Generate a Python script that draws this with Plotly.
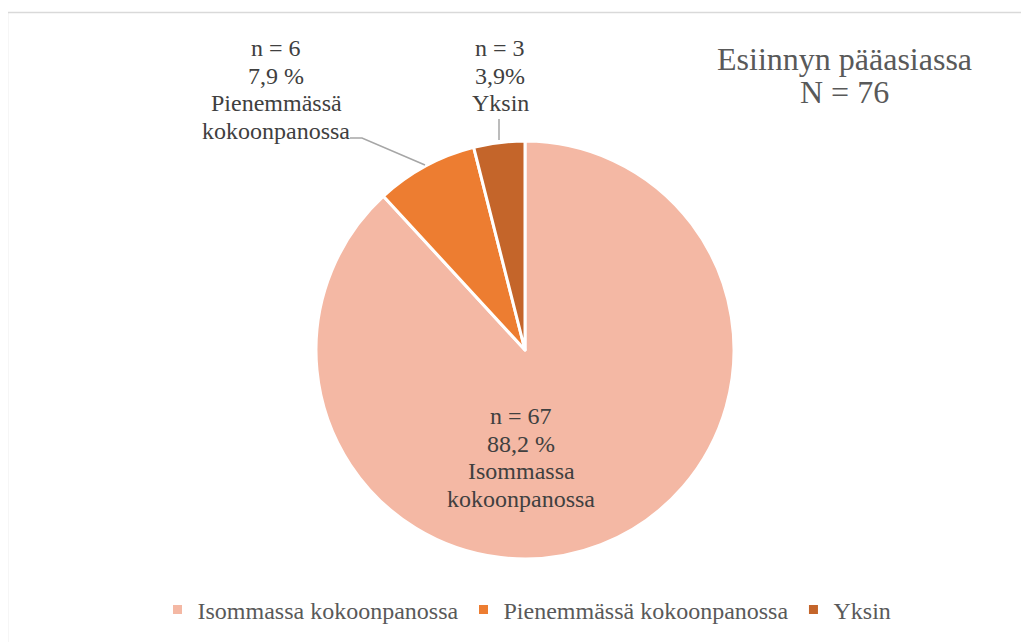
import plotly.graph_objects as go

labels = ["Isommassa kokoonpanossa", "Pienemmässä kokoonpanossa", "Yksin"]
counts = [67, 6, 3]
pct_text = ["88,2 %", "7,9 %", "3,9%"]
label_lines = [["Isommassa", "kokoonpanossa"], ["Pienemmässä", "kokoonpanossa"], ["Yksin"]]
colors = ["#F4B8A4", "#ED7D31", "#C4652A"]
title_lines = ["Esiinnyn pääasiassa", "N = 76"]

# page has an 8px body margin, so the figure sits at (8, 8)
OFF = 8
W, H = 1029 - OFF, 642 - OFF
SERIF = "Liberation Serif"


def px(x, y):
    # page pixel position -> paper coords
    return (x - OFF) / W, 1 - (y - OFF) / H


def text_block(lines, cx, top, pitch, font):
    # one annotation per line so the line spacing matches the original
    for k, line in enumerate(lines):
        x, y = px(cx, top + k * pitch)
        fig.add_annotation(x=x, y=y, xref="paper", yref="paper", text=line,
                           showarrow=False, font=font,
                           xanchor="center", yanchor="middle")


fig = go.Figure()
d0, d1 = px(316, 559), px(734, 141)
fig.add_trace(go.Pie(
    labels=labels,
    values=counts,
    sort=False,
    direction="clockwise",
    rotation=0,
    marker=dict(colors=colors, line=dict(color="white", width=3)),
    textinfo="none",
    hoverinfo="label+value+percent",
    domain=dict(x=[d0[0], d1[0]], y=[d0[1], d1[1]]),
))

label_font = dict(family=SERIF, size=24, color="#404040")
label_pos = [(521, 416), (276, 48), (500, 48)]
for i in range(len(labels)):
    lines = ["n = %d" % counts[i], pct_text[i]] + label_lines[i]
    text_block(lines, label_pos[i][0], label_pos[i][1], 27.7, label_font)

text_block(title_lines, 844, 59, 33, dict(family=SERIF, size=32, color="#595959"))

# leader lines
lead = dict(color="#A6A6A6", width=1.5)
p1, p2, p3 = px(350, 138), px(362, 138), px(425, 165)
fig.add_shape(type="path", xref="paper", yref="paper",
              path="M %f %f L %f %f L %f %f" % (p1[0], p1[1], p2[0], p2[1], p3[0], p3[1]),
              line=lead)
q1, q2 = px(499, 119), px(499, 140)
fig.add_shape(type="line", xref="paper", yref="paper",
              x0=q1[0], y0=q1[1], x1=q2[0], y1=q2[1], line=lead)

# chart area frame
b0 = px(7.5, 12.5)
fig.add_shape(type="rect", xref="paper", yref="paper",
              x0=b0[0], y0=-0.05, x1=1.05, y1=b0[1],
              line=dict(color="#D9D9D9", width=1.5), layer="below")

lx, ly = px(527, 610)
fig.update_layout(
    width=W, height=H,
    margin=dict(l=0, r=0, t=0, b=0),
    paper_bgcolor="white",
    plot_bgcolor="white",
    showlegend=True,
    font=dict(family=SERIF),
    legend=dict(orientation="h", x=lx, y=ly, xanchor="center", yanchor="middle",
                font=dict(family=SERIF, size=24, color="#595959"),
                itemclick=False),
)

fig.write_html("out.html")
